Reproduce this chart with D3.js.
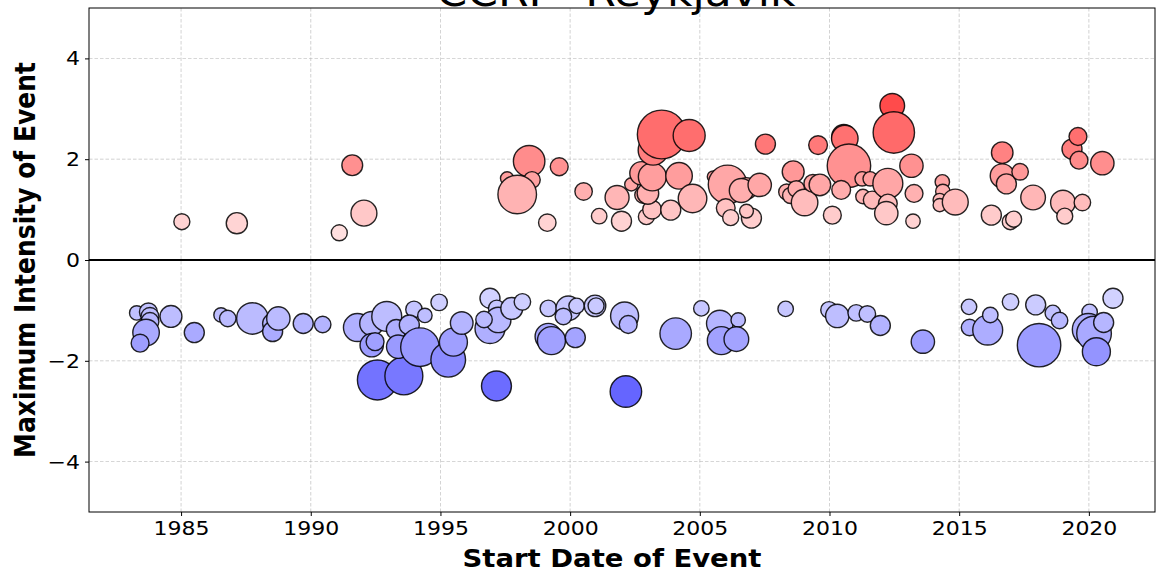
<!DOCTYPE html>
<html>
<head>
<meta charset="utf-8">
<script src="https://cdn.jsdelivr.net/npm/d3@7"></script>
<style>
  body { margin: 0; background: #fff; }
  text { font-family: "DejaVu Sans", sans-serif; }
</style>
</head>
<body>
<div id="divChart"></div>
<script>
// start of event (decimal year), peak intensity, duration (days)
var startYear = [
  1985.03, 1987.15, 1991.6, 1992.05, 1991.1, 1998.42, 1997.57, 1998.53, 1997.96, 1999.58,
  1999.12, 2000.52, 2001.12, 2001.81, 2001.98, 2002.36, 2002.81, 2002.94, 2003.16, 2003.0,
  2002.75, 2003.17, 2003.2, 2003.53, 2004.59, 2004.2, 2003.88, 2004.72, 2005.52, 2006.07,
  2006.0, 2006.19, 2006.8, 2006.6, 2007.31, 2006.99, 2006.8, 2007.53, 2008.6, 2009.56,
  2008.35, 2008.5, 2008.72, 2009.04, 2009.36, 2009.63, 2010.11, 2010.55, 2010.59, 2010.75,
  2010.45, 2011.26, 2011.57, 2011.29, 2011.65, 2012.25, 2012.25, 2012.19, 2012.42, 2012.48,
  2013.16, 2013.26, 2013.22, 2014.35, 2014.37, 2014.25, 2014.25, 2014.85, 2016.24, 2016.66,
  2016.66, 2016.82, 2017.35, 2016.97, 2017.1, 2017.85, 2019.0, 2019.07, 2019.75, 2019.35,
  2019.58, 2019.62, 2020.52,
  1983.29, 1983.74, 1983.8, 1983.8, 1983.65, 1983.42, 1984.61, 1985.51, 1986.54, 1986.8,
  1987.75, 1988.53, 1988.53, 1988.75, 1989.71, 1990.46, 1991.8, 1992.35, 1992.35, 1992.48,
  1992.93, 1992.57, 1993.59, 1993.3, 1993.37, 1993.98, 1994.4, 1993.8, 1994.21, 1994.95,
  1995.3, 1995.5, 1995.82, 1996.91, 1997.17, 1996.91, 1997.23, 1997.75, 1998.16, 1997.16,
  1996.68, 1999.16, 1999.93, 2000.25, 2000.96, 2001.0, 1999.74, 1999.16, 1999.28, 2000.2,
  2002.1, 2002.24, 2002.15, 2004.07, 2005.06, 2005.77, 2006.48, 2005.83, 2006.41, 2008.31,
  2009.98, 2010.3, 2011.03, 2011.46, 2011.96, 2013.6, 2015.38, 2015.4, 2016.1, 2016.2,
  2016.98, 2017.95, 2018.61, 2018.87, 2018.03, 2018.08, 2020.03, 2019.98, 2020.2, 2020.57,
  2020.29, 2020.93
];
var intensity = [
  0.76, 0.73, 1.88, 0.93, 0.54, 1.96, 1.62, 1.59, 1.30, 1.85,
  0.74, 1.36, 0.87, 1.24, 0.77, 1.50, 1.29, 0.86, 1.00, 1.32,
  1.72, 1.65, 2.18, 2.49, 2.47, 1.67, 0.99, 1.22, 1.65, 1.50,
  1.03, 0.84, 1.42, 1.38, 1.49, 0.83, 0.97, 2.30, 1.75, 2.28,
  1.35, 1.28, 1.41, 1.14, 1.52, 1.49, 0.89, 2.45, 2.41, 1.87,
  1.39, 1.61, 1.61, 1.26, 1.19, 1.52, 1.12, 0.93, 3.06, 2.53,
  1.87, 1.32, 0.77, 1.55, 1.36, 1.19, 1.09, 1.15, 0.89, 2.13,
  1.67, 1.51, 1.75, 0.76, 0.81, 1.24, 1.14, 0.87, 1.14, 2.20,
  2.45, 1.98, 1.92,
  -1.05, -1.03, -1.12, -1.22, -1.44, -1.65, -1.12, -1.44, -1.09, -1.16,
  -1.16, -1.26, -1.42, -1.16, -1.26, -1.28, -1.34, -1.26, -1.69, -1.62,
  -1.12, -2.38, -2.30, -1.38, -1.72, -0.98, -1.10, -1.29, -1.73, -0.84,
  -1.98, -1.63, -1.25, -0.76, -0.96, -1.36, -1.19, -0.96, -0.83, -2.50,
  -1.18, -0.96, -0.96, -0.91, -0.91, -0.91, -1.12, -1.52, -1.60, -1.54,
  -1.11, -1.28, -2.61, -1.46, -0.96, -1.26, -1.19, -1.60, -1.57, -0.97,
  -0.99, -1.11, -1.05, -1.07, -1.30, -1.62, -0.93, -1.34, -1.39, -1.09,
  -0.83, -0.89, -1.05, -1.20, -1.84, -1.69, -1.03, -1.38, -1.46, -1.24,
  -1.82, -0.76
];
var duration = [
  16, 28, 27, 42, 16, 62, 11, 17, 93, 20,
  19, 19, 15, 36, 25, 11, 17, 16, 22, 29,
  34, 49, 56, 148, 64, 44, 25, 51, 9, 93,
  22, 16, 29, 36, 34, 25, 12, 25, 30, 22,
  16, 16, 17, 44, 20, 29, 20, 36, 44, 118,
  22, 13, 13, 13, 20, 56, 22, 34, 38, 107,
  34, 20, 13, 13, 13, 11, 11, 42, 25, 29,
  36, 25, 17, 16, 16, 38, 38, 16, 17, 25,
  20, 20, 34,
  13, 20, 20, 20, 44, 20, 30, 25, 13, 17,
  62, 25, 25, 34, 25, 17, 49, 36, 34, 20,
  56, 100, 90, 25, 34, 17, 13, 25, 93, 17,
  75, 49, 32, 25, 17, 56, 40, 30, 17, 56,
  17, 17, 38, 15, 29, 16, 17, 44, 49, 25,
  49, 20, 62, 62, 15, 44, 13, 49, 38, 15,
  17, 34, 17, 17, 25, 34, 15, 17, 56, 15,
  17, 25, 15, 17, 25, 118, 15, 64, 75, 25,
  49, 25
];
var xTicks = [1985, 1990, 1995, 2000, 2005, 2010, 2015, 2020];
var yTicks = [-4, -2, 0, 2, 4];
var titleText = "CCRI - Reykjavik";
var xLabel = "Start Date of Event";
var yLabel = "Maximum Intensity of Event";

function init()
{
    var width = 1156, height = 575;
    var left = 89, right = 1155, top = 8, bottom = 512;
    var stretch = 1.1; // the picture is a little wider than tall

    var svg = d3.select("#divChart").append("svg")
        .attr("width", width)
        .attr("height", height);

    var scaleX = d3.scaleLinear().domain([1981.45, 2022.55]).range([left, right]);
    var scaleY = d3.scaleLinear().domain([-5, 5]).range([bottom, top]);
    var scaleR = d3.scaleSqrt().domain([0, 150]).range([0, 24.5]);

    var vmax = d3.max(intensity, function(d){ return Math.abs(d); });
    var redSide = d3.interpolateRgb("#ffffff", "#ff4b4b");
    var blueSide = d3.interpolateRgb("#ffffff", "#4b4bff");
    function colour(v) {
        return v >= 0 ? redSide(v / vmax) : blueSide(-v / vmax);
    }

    var data = startYear.map(function(x, i){
        return {x: x, y: intensity[i], d: duration[i]};
    });

    // title, mostly above the window
    svg.append("text")
        .attr("transform", "translate(616,6) scale(" + stretch + ",1)")
        .attr("text-anchor", "middle")
        .style("font-size", "40px")
        .text(titleText);

    // grid
    var grid = svg.append("g");
    grid.selectAll("line.gx").data(xTicks).enter().append("line")
        .attr("x1", function(d){ return scaleX(d); })
        .attr("x2", function(d){ return scaleX(d); })
        .attr("y1", top).attr("y2", bottom)
        .style("stroke", "#b0b0b0").style("stroke-width", 0.8)
        .style("stroke-dasharray", "3.5,2").style("opacity", 0.7);
    grid.selectAll("line.gy").data(yTicks).enter().append("line")
        .attr("y1", function(d){ return scaleY(d); })
        .attr("y2", function(d){ return scaleY(d); })
        .attr("x1", left).attr("x2", right)
        .style("stroke", "#b0b0b0").style("stroke-width", 0.8)
        .style("stroke-dasharray", "3.5,2").style("opacity", 0.7);

    // zero line
    svg.append("line")
        .attr("x1", left).attr("x2", right)
        .attr("y1", scaleY(0)).attr("y2", scaleY(0))
        .style("stroke", "#000").style("stroke-width", 2);

    // bubbles
    svg.append("g").selectAll("circle").data(data).enter().append("circle")
        .attr("cx", function(d){ return scaleX(d.x); })
        .attr("cy", function(d){ return scaleY(d.y); })
        .attr("r", function(d){ return scaleR(d.d); })
        .style("fill", function(d){ return colour(d.y); })
        .style("stroke", "#000")
        .style("stroke-opacity", 0.85)
        .style("stroke-width", 1.4);

    // axes
    var xAxis = d3.axisBottom(scaleX).tickValues(xTicks).tickFormat(d3.format("d"))
        .tickSize(4).tickPadding(5);
    var yAxis = d3.axisLeft(scaleY).tickValues(yTicks).tickSize(4).tickPadding(5);

    var gx = svg.append("g").attr("transform", "translate(0," + bottom + ")").call(xAxis);
    var gy = svg.append("g").attr("transform", "translate(" + left + ",0)").call(yAxis);
    [gx, gy].forEach(function(g){
        g.select(".domain").remove();
        g.selectAll("text").style("font-family", "DejaVu Sans").style("font-size", "20px").style("fill", "#000");
        g.selectAll("line").style("stroke", "#000");
    });
    gx.selectAll("text").attr("transform", "scale(" + stretch + ",1)");
    gy.selectAll("text").attr("x", -9 / stretch).attr("transform", "scale(" + stretch + ",1)");

    // frame
    svg.append("rect")
        .attr("x", left).attr("y", top)
        .attr("width", right - left).attr("height", bottom - top)
        .style("fill", "none").style("stroke", "#000").style("stroke-width", 1);

    svg.append("text")
        .attr("transform", "translate(612,567) scale(" + stretch + ",1)")
        .attr("text-anchor", "middle")
        .style("font-size", "25px").style("font-weight", "bold")
        .text(xLabel);

    svg.append("text")
        .attr("transform", "translate(35," + (top + bottom) / 2 + ") scale(" + stretch + ",1) rotate(-90)")
        .attr("text-anchor", "middle")
        .style("font-size", "25px").style("font-weight", "bold")
        .text(yLabel);
}

window.onload = init;
</script>
</body>
</html>
